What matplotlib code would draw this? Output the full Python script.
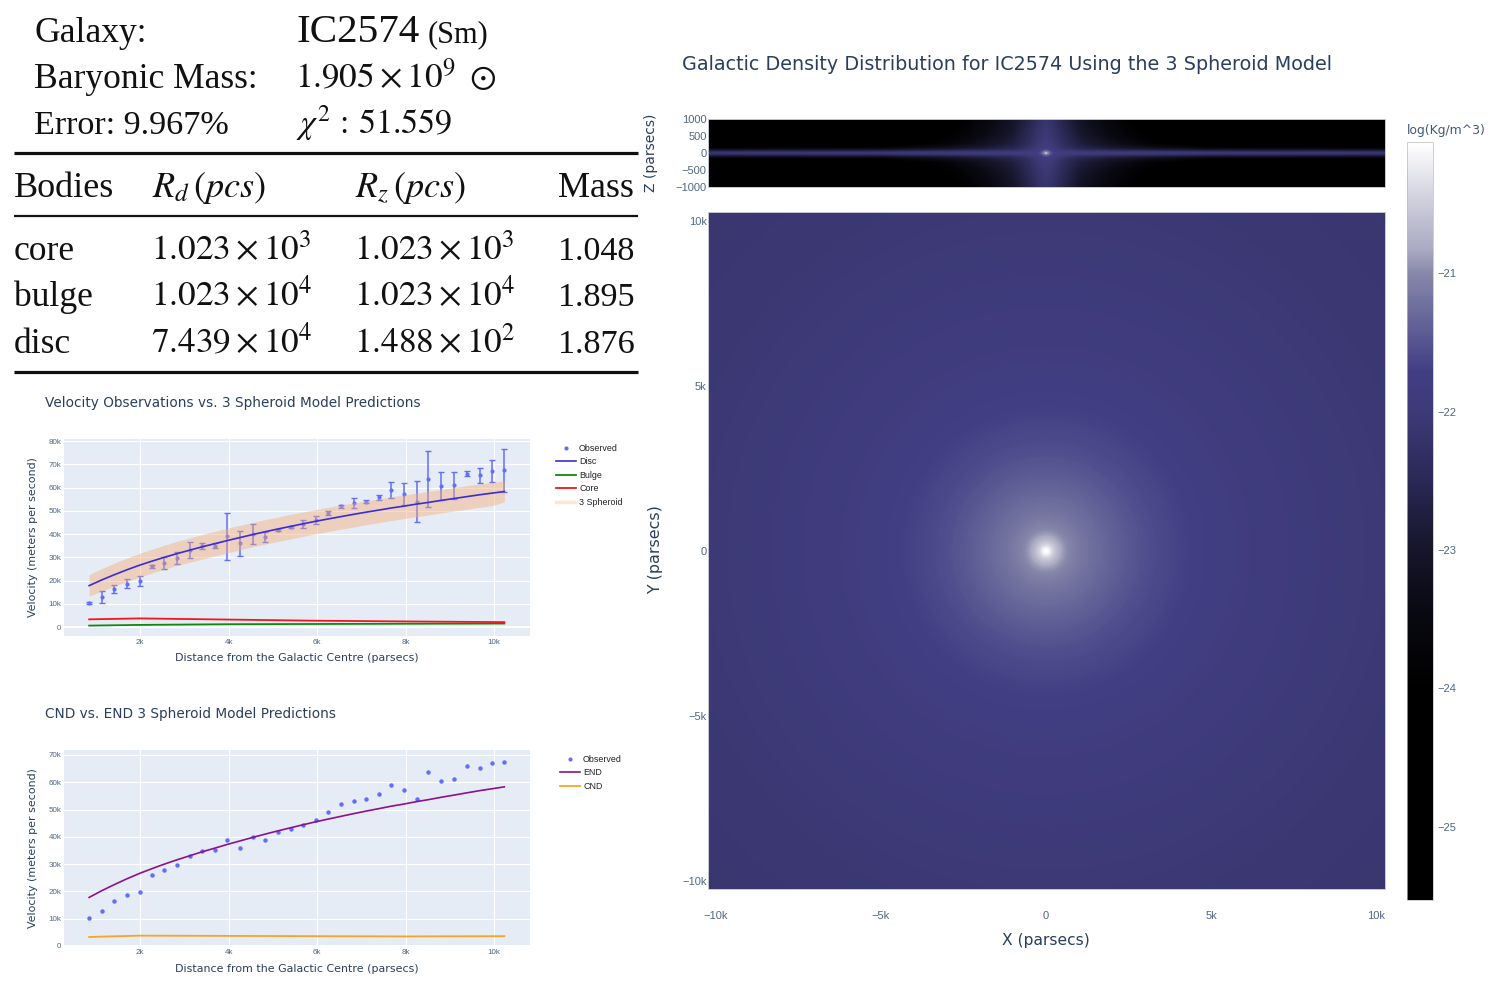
import numpy as np
import matplotlib
matplotlib.use("Agg")
import matplotlib.pyplot as plt
from matplotlib.cm import ScalarMappable
from matplotlib.colors import LinearSegmentedColormap, Normalize
from matplotlib.lines import Line2D
from matplotlib.ticker import FuncFormatter
from matplotlib.tri import Triangulation

# ---------- data ----------
radius_obs = [0.85, 1.14, 1.42, 1.70, 1.99, 2.28, 2.55, 2.84, 3.13, 3.40, 3.70, 3.97, 4.26, 4.55, 4.83, 5.12, 5.40,
              5.68, 5.97, 6.25, 6.54, 6.83, 7.10, 7.39, 7.67, 7.96, 8.25, 8.51, 8.81, 9.10, 9.38, 9.67, 9.95, 10.23]
v_obs = [10.3, 13.0, 16.4, 18.7, 19.9, 26.1, 27.7, 29.7, 33.0, 34.8, 35.0, 39.0, 36.0, 40.0, 38.7, 41.8, 43.0,
         44.4, 46.0, 49.0, 51.9, 53.2, 54.0, 55.8, 58.8, 57.3, 54.0, 63.8, 60.5, 61.0, 66.0, 65.2, 67.1, 67.4]
v_err = [0.3, 2.7, 1.8, 2.1, 2.1, 0.7, 2.6, 2.5, 3.4, 1.3, 1.0, 10.2, 5.4, 4.2, 2.0, 0.5, 0.5,
         1.7, 1.7, 1.0, 0.7, 2.2, 0.5, 1.2, 3.5, 4.6, 9.0, 12.0, 6.0, 5.8, 1.0, 3.4, 4.6, 9.3]
v_disc = [17.8, 20.3, 22.5, 24.6, 26.6, 28.4, 30.0, 31.6, 33.1, 34.5, 35.9, 37.2, 38.5, 39.8, 41.0, 42.2, 43.3,
          44.4, 45.5, 46.5, 47.5, 48.5, 49.4, 50.3, 51.2, 52.0, 52.9, 53.6, 54.5, 55.3, 56.1, 56.9, 57.6, 58.3]
band_hi = [22.6, 25.2, 27.5, 29.7, 31.7, 33.5, 35.2, 36.9, 38.4, 39.8, 41.2, 42.5, 43.8, 45.0, 46.2, 47.3, 48.5,
           49.5, 50.5, 51.5, 52.5, 53.4, 54.3, 55.1, 56.0, 56.8, 57.6, 58.3, 59.2, 60.0, 60.8, 61.5, 62.2, 63.0]
band_lo = [13.3, 15.5, 17.6, 19.5, 21.5, 23.3, 24.9, 26.5, 27.9, 29.2, 30.6, 31.9, 33.2, 34.5, 35.7, 36.8, 37.9,
           39.0, 40.1, 41.1, 42.1, 43.0, 44.0, 44.9, 45.8, 46.6, 47.5, 48.2, 49.1, 49.9, 50.7, 51.5, 52.2, 53.8]
r_small = [0.85, 2.0, 4.0, 6.0, 8.0, 10.23]
v_core = [3.3, 3.7, 3.2, 2.7, 2.4, 2.1]
v_bulge = [0.6, 0.9, 1.2, 1.3, 1.4, 1.5]
v_cnd = [3.3, 3.8, 3.7, 3.6, 3.5, 3.6]

legend1 = ["Observed", "Disc", "Bulge", "Core", "3 Spheroid"]
legend2 = ["Observed", "END", "CND"]

# face-on map: log density against radius (parsecs); the picture is round
map_radius = [0, 50, 100, 150, 200, 250, 300, 400, 500, 600, 750, 1000, 1250, 1500, 2000, 2500, 3000, 3500,
              4000, 4500, 5000, 6000, 7000, 8500, 10000, 12000, 14600]
map_log = [-20.05, -20.10, -20.22, -20.36, -20.48, -20.57, -20.65, -20.79, -20.90, -20.98, -21.06, -21.15, -21.21,
           -21.27, -21.38, -21.47, -21.55, -21.61, -21.66, -21.71, -21.76, -21.84, -21.90, -21.97, -22.03, -22.08,
           -22.12]

# edge-on map: one quadrant, log density at |x| (parsecs) by |z| (parsecs)
side_x = [0, 60, 130, 250, 500, 1000, 2000, 3000, 5000, 10300]
side_z = [0, 25, 50, 100, 150, 250, 500, 1000]
side_log = [
    [-20.70, -21.00, -21.35, -21.65, -21.80, -21.92, -22.05, -22.20],
    [-21.10, -21.20, -21.45, -21.70, -21.85, -21.95, -22.08, -22.22],
    [-21.50, -21.55, -21.65, -21.80, -21.90, -22.00, -22.10, -22.25],
    [-21.75, -21.80, -21.88, -21.95, -22.00, -22.10, -22.20, -22.35],
    [-21.85, -21.90, -22.00, -22.15, -22.25, -22.35, -22.45, -22.60],
    [-21.95, -22.05, -22.20, -22.45, -22.60, -22.75, -22.90, -23.10],
    [-22.00, -22.10, -22.30, -22.70, -22.95, -23.20, -23.50, -23.70],
    [-22.05, -22.15, -22.40, -22.90, -23.25, -23.70, -24.00, -24.30],
    [-22.10, -22.30, -22.60, -23.20, -23.80, -24.50, -25.00, -25.40],
    [-22.15, -22.35, -22.65, -23.30, -23.90, -24.80, -25.30, -25.50],
]

cmap_values = [-25.53, -24.0, -23.5, -23.0, -22.5, -22.0, -21.7, -21.3, -21.0, -20.82, -20.58, -20.34, -20.05]
cmap_colors = ["#000000", "#000000", "#080810", "#16152a", "#2a2854", "#3d3a78", "#423e85", "#69699b",
               "#8787aa", "#aaaac3", "#c3c3d4", "#dedee8", "#ffffff"]

summary_rows = [("Galaxy:", 42, 25.6), ("Baryonic Mass:", 88, 25.6), ("Error: 9.967%", 134, 24.6)]
table_head = ["Bodies", r"$R_d\,(pcs)$", r"$R_z\,(pcs)$", "Mass"]
bodies = ["core", "bulge", "disc"]
rd_text = [r"$1.023\times10^{3}$", r"$1.023\times10^{4}$", r"$7.439\times10^{4}$"]
rz_text = [r"$1.023\times10^{3}$", r"$1.023\times10^{4}$", r"$1.488\times10^{2}$"]
mass_text = ["1.048", "1.895", "1.876"]

# ---------- style ----------
W, H = 1493, 986
INK = "#2a3f5f"
plt.rcParams["font.family"] = ["DejaVu Sans"]
plt.rcParams["mathtext.fontset"] = "stix"
SERIF = ["Liberation Serif", "DejaVu Serif"]
SANS = ["Liberation Sans", "DejaVu Sans"]
fig = plt.figure(figsize=(W / 100, H / 100), dpi=100, facecolor="white")


def box(x0, y0, x1, y1, **kw):
    return fig.add_axes([x0 / W, 1 - y1 / H, (x1 - x0) / W, (y1 - y0) / H], **kw)


def put(x, y, s, **kw):
    kw.setdefault("color", INK)
    return fig.text(x / W, 1 - y / H, s, **kw)


kfmt = FuncFormatter(lambda v, _: "0" if v == 0 else f"{v:g}k".replace("-", "\u2212"))


def style_line_axes(ax, ylim, yticks, ylab_y, title, title_y, xlab_y):
    ax.set_facecolor("#E5ECF6")
    for s in ax.spines.values():
        s.set_visible(False)
    ax.set_xlim(0.282, 10.81)
    ax.set_ylim(*ylim)
    ax.set_xticks([2, 4, 6, 8, 10])
    ax.set_yticks(yticks)
    ax.xaxis.set_major_formatter(kfmt)
    ax.yaxis.set_major_formatter(kfmt)
    ax.grid(True, color="white", lw=0.8)
    ax.set_axisbelow(True)
    ax.tick_params(length=0, labelsize=5.8, labelcolor="#506784", pad=2)
    for t in ax.get_xticklabels() + ax.get_yticklabels():
        t.set_family(SANS)
    ax.axhline(0, color="white", lw=1.5, zorder=1)
    put(45, title_y, title, fontsize=9.8, va="center", ha="left")
    put(297, xlab_y, "Distance from the Galactic Centre (parsecs)", fontsize=7.9, ha="center", va="center")
    put(33, ylab_y, "Velocity (meters per second)", fontsize=7.9, rotation=90, ha="center", va="center")


def place_legend(ax, handles, labels, x, y):
    ax.legend(handles, labels, loc="upper left", bbox_to_anchor=(x / W, 1 - y / H),
              bbox_transform=fig.transFigure, frameon=False, labelspacing=0.5,
              handlelength=2.2, handletextpad=0.4, borderpad=0, borderaxespad=0, labelcolor="#222222",
              prop={"family": SANS, "size": 6.4})


BLUE = "#636EFA"
# ---------- velocity chart ----------
ax1 = box(64, 439, 530, 636)
err = ax1.errorbar(radius_obs, v_obs, yerr=v_err, fmt="o", ms=3.0, color=BLUE, ecolor=BLUE, elinewidth=1.1,
                   capsize=2.3, capthick=1.0, zorder=2)
err.lines[0].set_markeredgewidth(0)
ax1.fill_between(radius_obs, band_lo, band_hi, color="#f6a96f", alpha=0.42, lw=0, zorder=3)
l_disc, = ax1.plot(radius_obs, v_disc, color="#3a2cd6", lw=1.2, zorder=4)
l_bulge, = ax1.plot(r_small, v_bulge, color="#0d8a0d", lw=1.3, zorder=4)
l_core, = ax1.plot(r_small, v_core, color="#f01818", lw=1.3, zorder=4)
style_line_axes(ax1, (-3.87, 80.9), [0, 10, 20, 30, 40, 50, 60, 70, 80], 537,
                "Velocity Observations vs. 3 Spheroid Model Predictions", 403, 658)
h_obs = Line2D([], [], ls="none", marker="o", ms=3.0, color=BLUE, mew=0)
h_band = Line2D([], [], color="#fde6d8", lw=2.5)
place_legend(ax1, [h_obs, l_disc, l_bulge, l_core, h_band], legend1, 556, 444)

# ---------- CND / END chart ----------
ax2 = box(64, 750, 530, 946)
ax2.plot(radius_obs, v_obs, "o", ms=3.2, color=BLUE, mew=0, zorder=3)
l_end, = ax2.plot(radius_obs, v_disc, color="#8c128c", lw=1.2, zorder=4)
l_cnd, = ax2.plot(r_small, v_cnd, color="#f5a623", lw=1.3, zorder=4)
style_line_axes(ax2, (0, 71.8), [0, 10, 20, 30, 40, 50, 60, 70], 848,
                "CND vs. END 3 Spheroid Model Predictions", 714, 969)
place_legend(ax2, [h_obs, l_end, l_cnd], legend2, 560, 755)

# ---------- density maps ----------
vmin, vmax = cmap_values[0], cmap_values[-1]
stops = [(v - vmin) / (vmax - vmin) for v in cmap_values]
cmap = LinearSegmentedColormap.from_list("density", list(zip(stops, cmap_colors)), N=512)
norm = Normalize(vmin, vmax)
levels = np.linspace(vmin, vmax, 500)
xlim = (-10.24e3, 10.27e3)

ax_top = box(708, 119, 1385, 187)
xx = np.r_[-np.array(side_x[:0:-1]), side_x]
zz = np.r_[-np.array(side_z[:0:-1]), side_z]
half = np.array(side_log)
full = np.vstack([half[:0:-1], half])
full = np.hstack([full[:, :0:-1], full])
ax_top.contourf(xx, zz, full.T, levels=levels, cmap=cmap, norm=norm)
ax_top.set_xlim(*xlim)
ax_top.set_ylim(-1000, 1000)
ax_top.set_xticks([])
ax_top.set_yticks([-1000, -500, 0, 500, 1000])
ax_top.set_yticklabels(["\u22121000", "\u2212500", "0", "500", "1000"])

ax_map = box(708, 212, 1385, 889)
n_t = 180
theta = np.linspace(0, 2 * np.pi, n_t, endpoint=False)
radii = np.array(map_radius[1:], dtype=float)
px = np.r_[0.0, np.outer(radii, np.cos(theta)).ravel()]
py = np.r_[0.0, np.outer(radii, np.sin(theta)).ravel()]
pv = np.r_[map_log[0], np.repeat(map_log[1:], n_t)]
idx = lambda i, j: 1 + i * n_t + (j % n_t)
tris = [(0, idx(0, j), idx(0, j + 1)) for j in range(n_t)]
for i in range(len(radii) - 1):
    for j in range(n_t):
        tris.append((idx(i, j), idx(i + 1, j), idx(i + 1, j + 1)))
        tris.append((idx(i, j), idx(i + 1, j + 1), idx(i, j + 1)))
ax_map.tricontourf(Triangulation(px, py, tris), pv, levels=levels, cmap=cmap, norm=norm)
ax_map.set_xlim(*xlim)
ax_map.set_ylim(-10.24e3, 10.27e3)
ax_map.set_xticks([-10e3, -5e3, 0, 5e3, 10e3])
ax_map.set_yticks([-10e3, -5e3, 0, 5e3, 10e3])
fmt_big = FuncFormatter(lambda v, _: "0" if v == 0 else f"{v / 1000:g}k".replace("-", "\u2212"))
ax_map.xaxis.set_major_formatter(fmt_big)
ax_map.yaxis.set_major_formatter(fmt_big)
for a in (ax_top, ax_map):
    for s in a.spines.values():
        s.set_color("#c8c8d4")
        s.set_linewidth(0.7)
    a.tick_params(length=0, labelsize=8, labelcolor="#506784", pad=1)
    for t in a.get_xticklabels() + a.get_yticklabels():
        t.set_family(SANS)
ax_map.tick_params(axis="x", pad=16)

cax = box(1407, 142, 1433, 900)
cb = fig.colorbar(ScalarMappable(norm=norm, cmap=cmap), cax=cax)
cb.set_ticks([-25, -24, -23, -22, -21])
cb.ax.set_yticklabels(["\u221225", "\u221224", "\u221223", "\u221222", "\u221221"])
cb.ax.tick_params(length=0, labelsize=8, labelcolor="#506784", pad=3)
for t in cb.ax.get_yticklabels():
    t.set_family(SANS)
cb.outline.set_edgecolor("#bbbbbb")
cb.outline.set_linewidth(0.5)

put(682, 64, "Galactic Density Distribution for IC2574 Using the 3 Spheroid Model", fontsize=13.8, ha="left", va="center")
put(1046, 941, "X (parsecs)", fontsize=11.2, ha="center", va="center")
put(656, 550, "Y (parsecs)", fontsize=11.4, rotation=90, ha="center", va="center")
put(651, 153, "Z (parsecs)", fontsize=10, rotation=90, ha="center", va="center")
put(1407, 130, "log(Kg/m^3)", fontsize=8.9, ha="left", va="center", color="#44597a")

# ---------- summary table ----------
BLACK = "#111111"


def serif(x, y, s, size=25.6):
    return put(x, y, s, fontsize=size, family=SERIF, color=BLACK, ha="left", va="baseline")


for label, y, size in summary_rows:
    serif(34, y, label, size)
serif(297, 42, "IC2574", 29.6)
serif(428, 42, "(Sm)", 22)
serif(295, 88, r"$1.905\times10^{9}\ \odot$", 25.3)
serif(296, 134, r"$\chi^{2}\,:\,51.559$", 24.5)
for x, s in zip([14, 152, 355, 558], table_head):
    serif(x, 197, s, 26)
for y, body, rd, rz, m in zip([260, 306, 353], bodies, rd_text, rz_text, mass_text):
    serif(14, y, body)
    serif(151, y, rd, 25.4)
    serif(354, y, rz, 25.4)
    serif(558, y, m, 24.6)
for y, lw in [(153, 2.3), (216, 1.6), (372, 2.3)]:
    fig.add_artist(Line2D([14 / W, 638 / W], [1 - y / H, 1 - y / H], color=BLACK, lw=lw, solid_capstyle="butt"))

fig.savefig("out.png", dpi=100)
